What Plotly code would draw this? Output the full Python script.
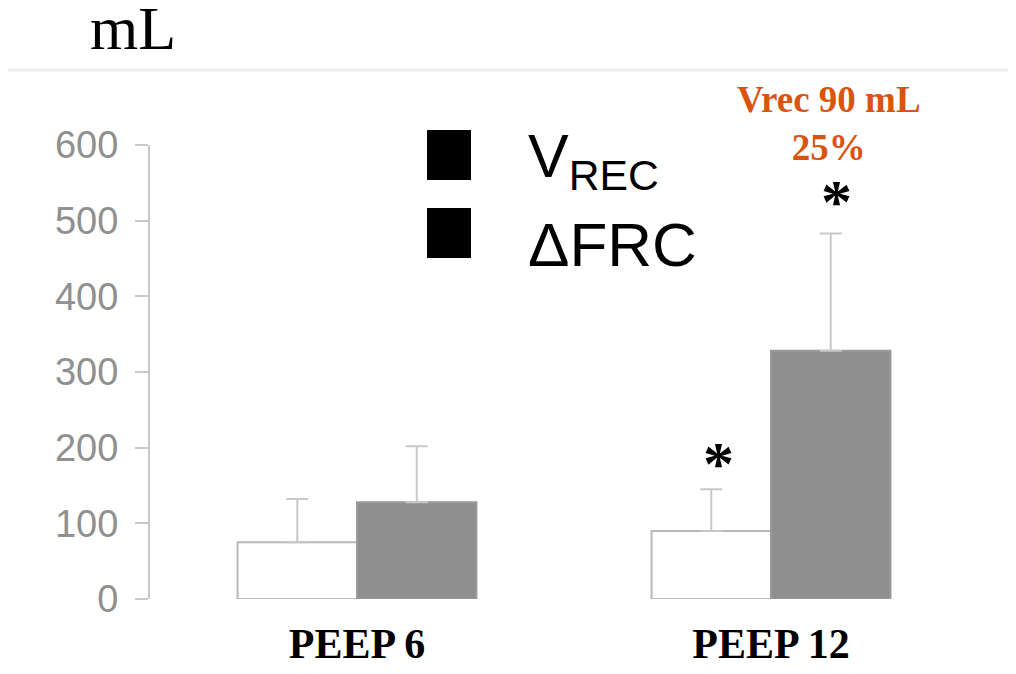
import plotly.graph_objects as go

categories = ["PEEP 6", "PEEP 12"]
vrec_values = [75, 90]
vrec_errors = [57, 55]
dfrc_values = [128, 328]
dfrc_errors = [74, 155]
y_ticks = [0, 100, 200, 300, 400, 500, 600]

# the page body adds an 8px offset, so the figure is sized 16px smaller
W, H = 1000, 658
L, T, PW, PH = 142, 137, 828, 454
X0S, Y0S = 150, 599  # on-screen left / bottom of the plot area


def px(sx):
    return (sx - X0S) / PW


def py(sy):
    return (Y0S - sy) / PH


fig = go.Figure()
fig.add_trace(go.Bar(
    x=categories, y=vrec_values, name="VREC",
    marker=dict(color="white", line=dict(color="#b8b8b8", width=2)),
    error_y=dict(type="data", array=vrec_errors, symmetric=False, arrayminus=[0, 0],
                 color="#c8c8c8", thickness=2, width=11),
))
fig.add_trace(go.Bar(
    x=categories, y=dfrc_values, name="ΔFRC",
    marker=dict(color="#8f8f8f", line=dict(color="#9a9a9a", width=2)),
    error_y=dict(type="data", array=dfrc_errors, symmetric=False, arrayminus=[0, 0],
                 color="#c8c8c8", thickness=2, width=11),
))

fig.update_layout(
    width=W, height=H,
    margin=dict(l=L, r=W - L - PW, t=T, b=H - T - PH, autoexpand=False),
    paper_bgcolor="white", plot_bgcolor="white",
    barmode="group", bargap=0.423, bargroupgap=0,
    showlegend=False,
    xaxis=dict(range=[-0.5, 1.5], showline=False, showgrid=False, ticks="",
               tickfont=dict(family="Liberation Serif", size=42, color="black", weight="bold"),
               ticklabelstandoff=16, zeroline=False, automargin=False),
    yaxis=dict(range=[0, 600], tickvals=y_ticks, showgrid=False, zeroline=False,
               showline=True, linecolor="#c8c8c8", linewidth=2,
               ticks="outside", ticklen=13, tickcolor="#c8c8c8", tickwidth=2,
               tickfont=dict(family="Liberation Sans", size=38, color="#909090"),
               ticklabelstandoff=9, automargin=False),
)

# top separator line
fig.add_shape(type="line", xref="paper", yref="paper", x0=px(8), x1=px(1010), y0=py(70), y1=py(70),
              line=dict(color="#eeeeee", width=3))

# legend squares
fig.add_shape(type="rect", xref="paper", yref="paper", x0=px(427), x1=px(471), y0=py(180), y1=py(130),
              fillcolor="black", line=dict(width=0))
fig.add_shape(type="rect", xref="paper", yref="paper", x0=px(427), x1=px(471), y0=py(258), y1=py(208),
              fillcolor="black", line=dict(width=0))

fig.add_annotation(xref="paper", yref="paper", x=px(526), y=py(201),
                   xanchor="left", yanchor="bottom", showarrow=False,
                   text="V<sub>REC</sub>", font=dict(family="Liberation Sans", size=61, color="black"))
fig.add_annotation(xref="paper", yref="paper", x=px(526), y=py(281),
                   xanchor="left", yanchor="bottom", showarrow=False,
                   text="ΔFRC", font=dict(family="Liberation Sans", size=62, color="black"))

# unit label
fig.add_annotation(xref="paper", yref="paper", x=px(133), y=py(28),
                   xanchor="center", yanchor="middle", showarrow=False,
                   text="mL", font=dict(family="Liberation Serif", size=62, color="black"))

# orange note
fig.add_annotation(xref="paper", yref="paper", x=px(829), y=py(123),
                   xanchor="center", yanchor="middle", showarrow=False,
                   text="<b>Vrec 90 mL<br>25%</b>",
                   font=dict(family="Liberation Serif", size=37, color="#d9540f"))

# asterisks
fig.add_annotation(x="PEEP 12", y=vrec_values[1] + vrec_errors[1], xshift=-53, yshift=-10,
                   yanchor="bottom", showarrow=False, text="<b>*</b>",
                   font=dict(family="Liberation Serif", size=62, color="black"))
fig.add_annotation(x="PEEP 12", y=dfrc_values[1] + dfrc_errors[1], xshift=65, yshift=-3,
                   yanchor="bottom", showarrow=False, text="<b>*</b>",
                   font=dict(family="Liberation Serif", size=62, color="black"))

fig.write_html("out.html")
